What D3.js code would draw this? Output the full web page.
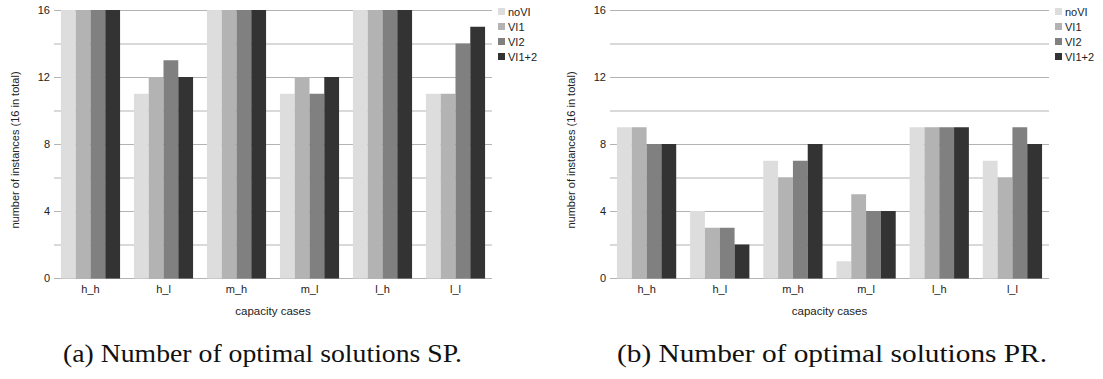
<!DOCTYPE html>
<html><head><meta charset="utf-8">
<script src="https://cdn.jsdelivr.net/npm/d3@7"></script>
<style>body{margin:0;background:#fff}svg{display:block}</style>
</head><body><svg id="c" width="1103" height="379"></svg>
<script>
const categories = ["h_h","h_l","m_h","m_l","l_h","l_l"];
const seriesNames = ["noVI","VI1","VI2","VI1+2"];
const colors = ["#dddddd","#b3b3b3","#808080","#333333"];
// Chart (a) SP
const spNoVI = [16,11,16,11,16,11];
const spVI1  = [16,12,16,12,16,11];
const spVI2  = [16,13,16,11,16,14];
const spVI12 = [16,12,16,12,16,15];
// Chart (b) PR
const prNoVI = [9,4,7,1,9,7];
const prVI1  = [9,3,6,5,9,6];
const prVI2  = [8,3,7,4,9,9];
const prVI12 = [8,2,8,4,9,8];
const yTicks = [0,4,8,12,16];
const yGrid = [0,2,4,6,8,10,12,14,16];
const yTitle = "number of instances (16 in total)";
const xTitle = "capacity cases";
const captions = ["(a) Number of optimal solutions SP.","(b) Number of optimal solutions PR."];

const svg = d3.select("#c");
const sans = "Liberation Sans, Arial, sans-serif";

function drawChart(x0, x1, series, caption, capX, capW) {
  const g = svg.append("g");
  const x = d3.scaleBand().domain(categories).range([x0, x1]).paddingInner(0.19).paddingOuter(0.095);
  const xs = d3.scaleBand().domain(seriesNames).range([0, x.bandwidth()]);
  const y = d3.scaleLinear().domain([0,16]).range([278,10]);
  g.selectAll("line.grid").data(yGrid).enter().append("line")
    .attr("x1", x0).attr("x2", x1).attr("y1", d=>y(d)+0.5).attr("y2", d=>y(d)+0.5)
    .attr("stroke", "#b3b3b3").attr("stroke-width", 1);
  series.forEach((vals, si) => {
    g.selectAll(null).data(vals).enter().append("rect")
      .attr("x", (d,i)=>x(categories[i]) + xs(seriesNames[si]))
      .attr("width", xs.bandwidth())
      .attr("y", d=>y(d)).attr("height", d=>y(0)-y(d)+0.5)
      .attr("fill", colors[si]);
  });
  g.selectAll(null).data(yTicks).enter().append("text")
    .attr("x", x0-4).attr("y", d=>y(d)+4).attr("text-anchor","end")
    .attr("font-family", sans).attr("font-size", 11).attr("fill","#222").text(d=>d);
  g.selectAll(null).data(categories).enter().append("text")
    .attr("x", d=>x(d)+x.bandwidth()/2).attr("y", 293).attr("text-anchor","middle")
    .attr("font-family", sans).attr("font-size", 11).attr("fill","#222").text(d=>d);
  g.append("text").attr("x",(x0+x1)/2).attr("y",315).attr("text-anchor","middle")
    .attr("font-family", sans).attr("font-size", 11.5).attr("fill","#222").text(xTitle);
  g.append("text").attr("transform",`translate(${x0-35},150) rotate(-90)`)
    .attr("text-anchor","middle").attr("font-family", sans).attr("font-size", 11)
    .attr("fill","#222").text(yTitle);
  const lg = g.append("g").attr("transform",`translate(${x1+6},12)`);
  seriesNames.forEach((n,i)=>{
    lg.append("rect").attr("x",0).attr("y",i*15-4).attr("width",7).attr("height",7).attr("fill",colors[i]);
    lg.append("text").attr("x",10).attr("y",i*15+4).attr("font-family",sans).attr("font-size",11)
      .attr("fill","#222").text(n);
  });
  g.append("text").attr("x",capX).attr("y",362).attr("text-anchor","middle")
    .attr("font-family","Liberation Serif, serif").attr("font-size",26)
    .attr("textLength", capW).attr("lengthAdjust","spacingAndGlyphs")
    .attr("fill","#111").text(caption);
}
drawChart(54, 492, [spNoVI, spVI1, spVI2, spVI12], captions[0], 262.5, 399);
drawChart(610, 1049, [prNoVI, prVI1, prVI2, prVI12], captions[1], 832, 430);
</script></body></html>
